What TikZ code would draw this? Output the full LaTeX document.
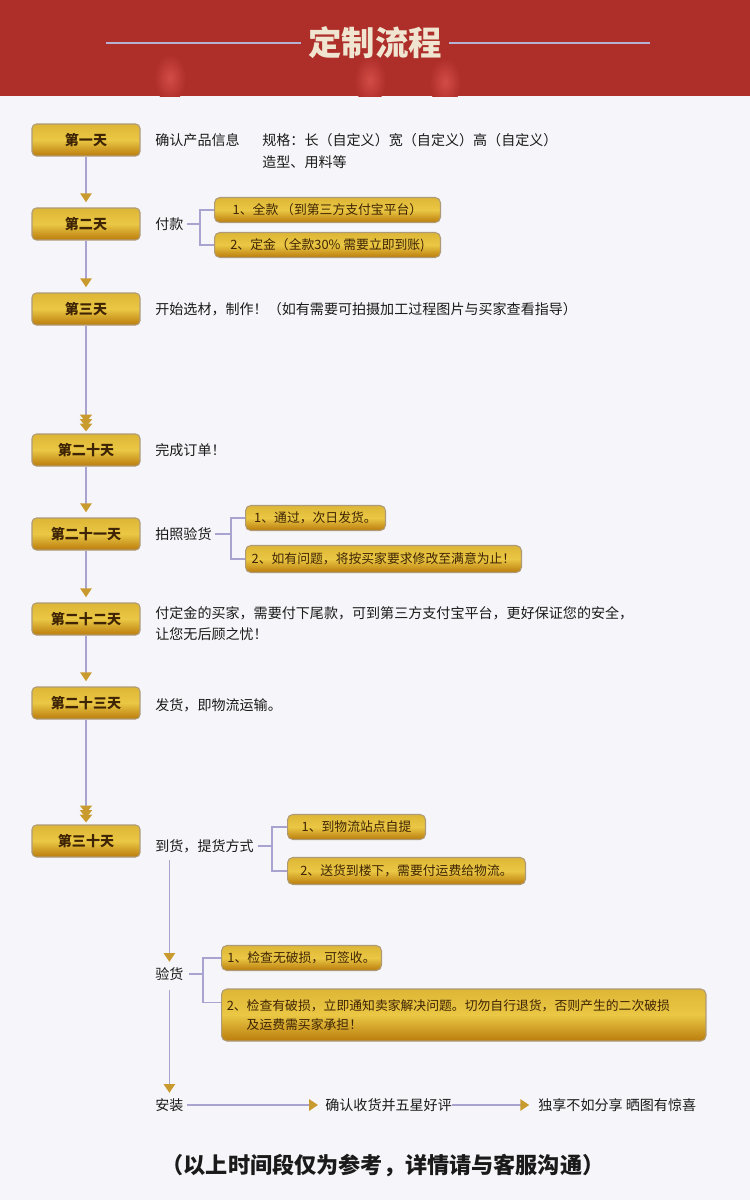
\documentclass[tikz,border=0pt]{standalone}
\usepackage{fontspec}
\setmainfont{Noto Sans CJK SC}
\usetikzlibrary{arrows.meta}
\definecolor{bandred}{HTML}{AE2E2A}
\definecolor{glowred}{HTML}{D24C46}
\definecolor{titlecol}{HTML}{EFE5D0}
\definecolor{rulecol}{HTML}{B6B0D4}
\definecolor{bgcol}{HTML}{F6F6FA}
\definecolor{goldtop}{HTML}{DEB636}
\definecolor{goldmid}{HTML}{EAC744}
\definecolor{goldbot}{HTML}{BA7C0C}
\definecolor{goldedge}{HTML}{AE9A78}
\definecolor{boxink}{HTML}{3E2404}
\definecolor{linecol}{HTML}{A9A3D0}
\definecolor{tipcol}{HTML}{C99A2E}
\definecolor{ink}{HTML}{1A1A1A}
\tikzset{
  gtip/.tip={Triangle[length=5pt,width=6.5pt,color=tipcol]},
  stip/.tip={Triangle[length=4.4pt,width=7pt,color=tipcol,sep=-1.8pt]},
}
\begin{document}
\begin{tikzpicture}[x=0.02cm, y=-0.02cm,
	daybox/.style={draw=goldedge, line width=0.6pt, rounded corners=2.5pt, top color=goldtop, bottom color=goldbot, middle color=goldmid, minimum width=2.16cm, minimum height=0.64cm, inner sep=0pt, text=boxink, font=\fontsize{8}{9}\selectfont\bfseries},
	opt/.style={draw=goldedge, line width=0.6pt, rounded corners=3pt, top color=goldtop, bottom color=goldbot, middle color=goldmid, anchor=west, inner sep=2pt, minimum height=0.5cm, align=left, text=boxink, font=\fontsize{7.3}{11}\selectfont},
	txt/.style={anchor=west, inner sep=0pt, text=ink, align=left, font=\fontsize{8}{12}\selectfont},
	link/.style={draw=linecol, line width=0.7pt, -{gtip[]}, shorten >=3pt},
	link3/.style={draw=linecol, line width=0.7pt, -{stip[]stip[]stip[]}, shorten >=3pt},
	brk/.style={draw=linecol, line width=0.7pt}]
	\useasboundingbox (0,0) rectangle (750,1200);
	\fill [bgcol] (0,0) rectangle (750,1200);
	\fill [bandred] (0,0) rectangle (750,96);
	\begin{scope}
		\clip (0,0) rectangle (750,96);
		\foreach \gx/\gy in {170/78, 370/80, 445/82}
			\shade [inner color=glowred, outer color=bandred] (\gx,\gy) ellipse (16 and 24);
	\end{scope}
	\node [text=titlecol, inner xsep=4pt, font=\fontsize{19}{21}\selectfont\bfseries] (title) at (375,43) {定制流程};
	\coordinate (rl) at (106,43);
	\coordinate (rr) at (650,43);
	\draw [rulecol, line width=1.6pt] (rl) -- (title.west);
	\draw [rulecol, line width=1.6pt] (title.east) -- (rr);

	\node [daybox] (d1) at (86,140) {第一天};
	\node [daybox] (d2) at (86,224) {第二天};
	\node [daybox] (d3) at (86,309) {第三天};
	\node [daybox] (d20) at (86,450) {第二十天};
	\node [daybox] (d21) at (86,534) {第二十一天};
	\node [daybox] (d22) at (86,619) {第二十二天};
	\node [daybox] (d23) at (86,703) {第二十三天};
	\node [daybox] (d30) at (86,841) {第三十天};
	\draw [link] (d1) -- (d2);
	\draw [link] (d2) -- (d3);
	\draw [link3] (d3) -- (d20);
	\draw [link] (d20) -- (d21);
	\draw [link] (d21) -- (d22);
	\draw [link] (d22) -- (d23);
	\draw [link3] (d23) -- (d30);

	\node [txt] (t1) at (155,140) {确认产品信息};
	\node [txt] (spec) at (262,140) {规格：长（自定义）宽（自定义）高（自定义）};
	\node [txt] (shape) at (262,162) {造型、用料等};

	\node [txt] (pay) at (155,224) {付款};
	\node [opt, minimum width=4.52cm] (p1) at (214,210) {1、全款 （到第三方支付宝平台）};
	\node [opt, minimum width=4.52cm] (p2) at (214,245) {2、定金（全款30\% 需要立即到账)};
	\coordinate (bk1) at (200,224);
	\draw [brk] ([xshift=2pt]pay.east) -- (bk1);
	\draw [brk] (p1.west) -| (bk1) |- (p2.west);

	\node [txt] (t3) at (155,309) {开始选材，制作！（如有需要可拍摄加工过程图片与买家查看指导）};
	\node [txt] (t20) at (155,450) {完成订单！};

	\node [txt] (photo) at (155,534) {拍照验货};
	\node [opt, minimum width=2.8cm] (r1) at (245,518) {1、通过，次日发货。};
	\node [opt, minimum width=5.52cm, minimum height=0.54cm] (r2) at (245,559) {2、如有问题，将按买家要求修改至满意为止！};
	\coordinate (bk2) at (231,534);
	\draw [brk] ([xshift=2pt]photo.east) -- (bk2);
	\draw [brk] (r1.west) -| (bk2) |- (r2.west);

	\node [txt] (t22) at (155,624) {付定金的买家，需要付下尾款，可到第三方支付宝平台，更好保证您的安全，\\让您无后顾之忧！};
	\node [txt] (t23) at (155,705) {发货，即物流运输。};

	\node [txt] (dao) at (155,846) {到货，提货方式};
	\node [opt, minimum width=2.76cm] (k1) at (287,827) {1、到物流站点自提};
	\node [opt, minimum width=4.76cm, minimum height=0.54cm] (k2) at (287,871) {2、送货到楼下，需要付运费给物流。};
	\coordinate (bk3) at (272,846);
	\draw [brk] ([xshift=2pt]dao.east) -- (bk3);
	\draw [brk] (k1.west) -| (bk3) |- (k2.west);

	\node [txt] (yan) at (155,974) {验货};
	\node [opt, minimum width=3.2cm] (v1) at (221,958) {1、检查无破损，可签收。};
	\node [opt, text width=9.48cm, inner xsep=3pt, minimum height=1.04cm] (v2) at (221,1015) {2、检查有破损，立即通知卖家解决问题。切勿自行退货，否则产生的二次破损\\\hspace*{1.55em}及运费需买家承担！};
	\coordinate (bk4) at (203,974);
	\draw [brk] ([xshift=3pt]yan.east) -- (bk4);
	\draw [brk] (v1.west) -| (bk4) |- ([yshift=-8pt]v2.north west);
	\draw [link] ([yshift=-4pt]yan.north |- dao.south) -- (yan.north);

	\node [txt] (inst) at (155,1105) {安装};
	\node [txt] (ok) at (325,1105) {确认收货并五星好评};
	\node [txt] (share) at (538,1105) {独享不如分享 晒图有惊喜};
	\draw [link] ([yshift=-5pt]yan.south) -- (inst.north);
	\draw [link, shorten <=2pt, shorten >=4pt] (inst.east) -- (ok.west);
	\draw [link, shorten >=5pt] (ok.east) -- (share.west);

	\node [text=ink, inner sep=0pt, font=\fontsize{12.6}{15}\selectfont\bfseries] (note) at (383,1166) {（以上时间段仅为参考，详情请与客服沟通）};
\end{tikzpicture}
\end{document}
